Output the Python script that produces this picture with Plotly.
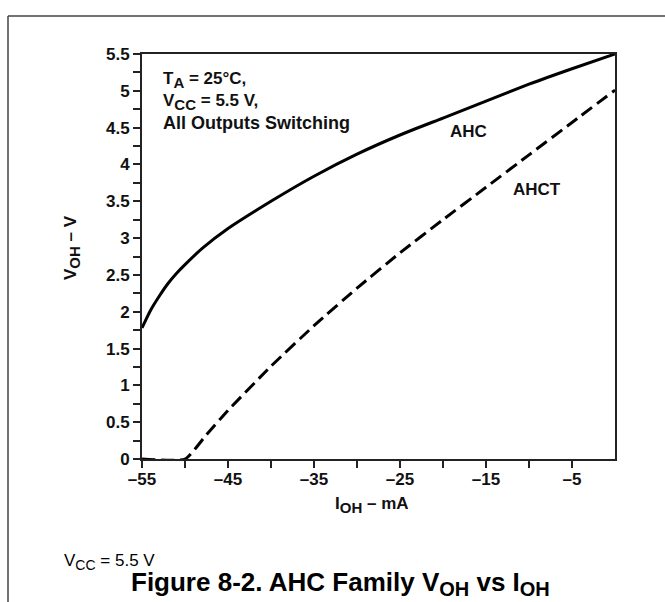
import plotly.graph_objects as go

# ---- data ----
ioh_ahc = [-55, -54, -53, -52, -51, -50, -48, -45, -40, -35, -30, -25, -20, -15, -10, -5, 0]
voh_ahc = [1.78, 2.02, 2.21, 2.38, 2.52, 2.64, 2.86, 3.13, 3.50, 3.84, 4.14, 4.40, 4.63, 4.86, 5.09, 5.30, 5.50]

ioh_ahct = [-55, -50, -47.5, -45, -40, -35, -30, -25, -20, -15, -10, -5, 0]
voh_ahct = [0, 0, 0.33, 0.66, 1.26, 1.81, 2.32, 2.80, 3.25, 3.69, 4.13, 4.57, 5.01]

x_tickvals = [-55, -45, -35, -25, -15, -5]
x_ticktext = ["\u201355", "\u201345", "\u201335", "\u201325", "\u201315", "\u20135"]
x_minorvals = [-50, -40, -30, -20, -10]

W, H = 665, 602
L, R, T, B = 142, 50, 54, 143
PW, PH = W - L - R, H - T - B

def px(x):
    return (x - L) / PW

def py(y):
    return (H - B - y) / PH

def sub(t, size):
    return f"<sub><span style='font-size:{size}px'>{t}</span></sub>"

FONT = "Liberation Sans, Arial, sans-serif"
INK = "#111111"

fig = go.Figure()
fig.add_trace(go.Scatter(x=ioh_ahc, y=voh_ahc, mode="lines", name="AHC",
                         line=dict(color="black", width=3, shape="spline", smoothing=0.6)))
fig.add_trace(go.Scatter(x=ioh_ahct, y=voh_ahct, mode="lines", name="AHCT",
                         line=dict(color="black", width=3, dash="13px,6px", shape="spline", smoothing=0.5)))

axis_common = dict(showgrid=False, zeroline=False, showline=True, linecolor="#222222", linewidth=2,
                   mirror=True, ticks="outside", ticklen=7, tickwidth=2, tickcolor="#222222",
                   tickfont=dict(family=FONT, size=17, color=INK, weight="bold"))

fig.update_xaxes(range=[-55, 0], tickmode="array", tickvals=x_tickvals, ticktext=x_ticktext,
                 ticklabelstandoff=-3,
                 minor=dict(tickmode="array", tickvals=x_minorvals, ticks="outside", ticklen=7,
                            tickwidth=2, tickcolor="#222222"),
                 **axis_common)
fig.update_yaxes(range=[0, 5.5], tickmode="linear", tick0=0, dtick=0.5,
                 minor=dict(tick0=0, dtick=0.25, ticks="outside", ticklen=7, tickwidth=2,
                            tickcolor="#222222"),
                 **axis_common)

bold17 = dict(family=FONT, size=17, color=INK, weight="bold")
ann = [
    dict(x=px(161), y=py(80), text="T" + sub("A", 15) + " = 25°C,", xanchor="left", yanchor="middle", font=bold17),
    dict(x=px(161), y=py(102), text="V" + sub("CC", 15) + " = 5.5 V,", xanchor="left", yanchor="middle", font=bold17),
    dict(x=px(161), y=py(123), text="All Outputs Switching", xanchor="left", yanchor="middle",
         font=dict(family=FONT, size=18, color=INK, weight="bold")),
    dict(x=px(468), y=py(131), text="AHC", xanchor="center", yanchor="middle", font=bold17),
    dict(x=px(537), y=py(189), text="AHCT", xanchor="center", yanchor="middle", font=bold17),
    dict(x=px(372), y=py(505), text="I" + sub("OH", 15) + " \u2013 mA", xanchor="center", yanchor="middle",
         font=bold17),
    dict(x=px(72), y=py(248), text="V" + sub("OH", 15) + " \u2013 V", textangle=-90, xanchor="center",
         yanchor="middle", font=bold17),
    dict(x=px(62), y=py(562), text="V" + sub("CC", 14) + " = 5.5 V", xanchor="left", yanchor="middle",
         font=dict(family=FONT, size=17, color="black")),
    dict(x=px(340), y=py(583),
         text="Figure 8-2. AHC Family V" + sub("OH", 20) + " vs I" + sub("OH", 20),
         xanchor="center", yanchor="middle", font=dict(family=FONT, size=26, color="black", weight="bold")),
]
for a in ann:
    a.update(xref="paper", yref="paper", showarrow=False)

shapes = [
    dict(type="line", xref="paper", yref="paper", x0=px(8), x1=px(665), y0=py(16), y1=py(16),
         line=dict(color="#444444", width=1.5)),
    dict(type="line", xref="paper", yref="paper", x0=px(8), x1=px(8), y0=py(16), y1=py(602),
         line=dict(color="#444444", width=1.5)),
]

fig.update_layout(width=W, height=H, margin=dict(l=L, r=R, t=T, b=B, autoexpand=False),
                  plot_bgcolor="white", paper_bgcolor="white", showlegend=False,
                  annotations=ann, shapes=shapes)

fig.write_html("out.html", config={"displayModeBar": False},
               post_script="document.body.style.margin='0';document.body.style.overflow='hidden';")
